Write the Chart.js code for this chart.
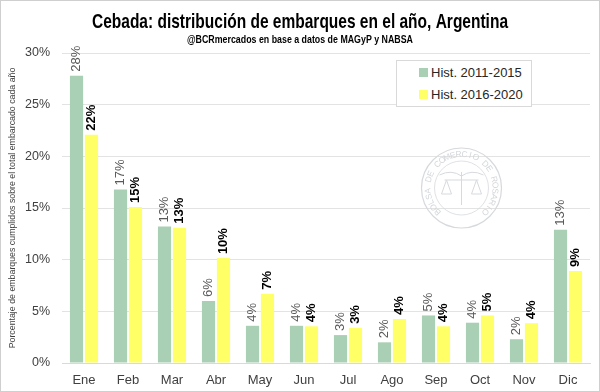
<!DOCTYPE html>
<html>
<head>
<meta charset="utf-8">
<script src="https://cdn.jsdelivr.net/npm/chart.js@4/dist/chart.umd.min.js"></script>
<style>
  body { margin: 0; background: #fff; }
  #wrap { position: relative; width: 600px; height: 392px; box-sizing: border-box; border: 1px solid #cfcfcf; }
  #legend { position: absolute; left: 395px; top: 59px; width: 136px; height: 47px; box-sizing: border-box;
    border: 1px solid #d9d9d9; background: #fff; font: 13px "Liberation Sans", sans-serif; color: #262626; }
  .item { position: absolute; left: 22px; height: 16px; line-height: 16px; white-space: nowrap; }
  .sw { display: inline-block; width: 9px; height: 9px; margin-right: 3px; }
</style>
</head>
<body>
<div id="wrap">
  <canvas id="embarques" width="598" height="390"></canvas>
  <div id="legend">
    <div class="item" style="top:4px"><span class="sw" style="background:#a9cfb4"></span>Hist. 2011-2015</div>
    <div class="item" style="top:26px"><span class="sw" style="background:#ffff66"></span>Hist. 2016-2020</div>
  </div>
</div>
<script>
const meses = ['Ene','Feb','Mar','Abr','May','Jun','Jul','Ago','Sep','Oct','Nov','Dic'];
const hist2011 = [27.8, 16.8, 13.2, 6.0, 3.6, 3.6, 2.7, 2.0, 4.6, 3.9, 2.3, 12.9];
const hist2016 = [22.1, 15.1, 13.1, 10.15, 6.7, 3.55, 3.4, 4.25, 3.55, 4.6, 3.85, 8.9];
const series = ['Hist. 2011-2015', 'Hist. 2016-2020'];
const titulo = 'Cebada: distribución de embarques en el año, Argentina';
const subtitulo = '@BCRmercados en base a datos de MAGyP y NABSA';
const sello = 'BOLSA DE COMERCIO DE ROSARIO';

// titulo angosto (fuente condensada), se comprime en x
function textoAngosto(ctx, txt, font, y, ancho) {
    ctx.save();
    ctx.font = font;
    ctx.fillStyle = '#000';
    ctx.textAlign = 'center';
    ctx.textBaseline = 'alphabetic';
    const w = ctx.measureText(txt).width;
    ctx.translate(299, y);
    ctx.scale(ancho / w, 1);
    ctx.fillText(txt, 0, 0);
    ctx.restore();
}

const encabezado = {
    id: 'encabezado',
    afterDraw(chart) {
        textoAngosto(chart.ctx, titulo, 'bold 21px "Liberation Sans", sans-serif', 26.5, 416);
        textoAngosto(chart.ctx, subtitulo, 'bold 11.5px "Liberation Sans", sans-serif', 42, 226);
    }
};

// marca de agua de la bolsa
const marca = {
    id: 'marca',
    beforeDatasetsDraw(chart) {
        const ctx = chart.ctx;
        const cx = 460.5, cy = 187, r = 40;
        ctx.save();
        ctx.strokeStyle = '#d6d9dd';
        ctx.fillStyle = '#d3d6da';
        ctx.lineWidth = 1.2;
        ctx.beginPath(); ctx.arc(cx, cy, r, 0, Math.PI * 2); ctx.stroke();
        ctx.lineWidth = 0.8;
        ctx.beginPath(); ctx.arc(cx, cy, r - 13, 0, Math.PI * 2); ctx.stroke();
        ctx.font = '8.5px "Liberation Sans", sans-serif';
        ctx.textAlign = 'center';
        ctx.textBaseline = 'middle';
        const ini = Math.PI * 0.75, paso = (Math.PI * 1.5) / (sello.length - 1);
        for (let i = 0; i < sello.length; i++) {
            const a = ini + i * paso;
            ctx.save();
            ctx.translate(cx + (r - 6.5) * Math.cos(a), cy + (r - 6.5) * Math.sin(a));
            ctx.rotate(a + Math.PI / 2);
            ctx.fillText(sello[i], 0, 0);
            ctx.restore();
        }
        // balanza
        ctx.lineWidth = 1;
        ctx.beginPath();
        ctx.moveTo(cx, cy - 16); ctx.lineTo(cx, cy + 17);
        ctx.moveTo(cx - 17, cy - 8); ctx.lineTo(cx + 17, cy - 8);
        ctx.moveTo(cx - 15, cy - 8); ctx.lineTo(cx - 20, cy + 6); ctx.lineTo(cx - 10, cy + 6); ctx.closePath();
        ctx.moveTo(cx + 15, cy - 8); ctx.lineTo(cx + 10, cy + 6); ctx.lineTo(cx + 20, cy + 6); ctx.closePath();
        ctx.moveTo(cx - 22, cy - 13); ctx.quadraticCurveTo(cx - 10, cy - 19, cx, cy - 12);
        ctx.quadraticCurveTo(cx + 10, cy - 19, cx + 22, cy - 13);
        ctx.stroke();
        ctx.restore();
    }
};

// etiquetas verticales sobre cada barra
const etiquetas = {
    id: 'etiquetas',
    afterDatasetsDraw(chart) {
        const ctx = chart.ctx;
        chart.data.datasets.forEach((ds, i) => {
            const meta = chart.getDatasetMeta(i);
            meta.data.forEach((bar, j) => {
                ctx.save();
                ctx.translate(bar.x, bar.y - 4);
                ctx.rotate(-Math.PI / 2);
                ctx.textAlign = 'left';
                ctx.textBaseline = 'middle';
                ctx.font = (i == 1 ? 'bold ' : '') + '13px "Liberation Sans", sans-serif';
                ctx.fillStyle = i == 1 ? '#000' : '#595959';
                ctx.fillText(Math.round(ds.data[j]) + '%', 0, 0);
                ctx.restore();
            });
        });
    }
};

const config = {
    type: 'bar',
    data: {
        labels: meses,
        datasets: [
            { label: series[0], data: hist2011, backgroundColor: '#a9cfb4', categoryPercentage: 0.68, barPercentage: 0.88 },
            { label: series[1], data: hist2016, backgroundColor: '#ffff66', categoryPercentage: 0.68, barPercentage: 0.88 }
        ]
    },
    options: {
        responsive: false,
        animation: false,
        layout: { padding: { left: 6, right: 9, top: 52, bottom: 0 } },
        plugins: {
            legend: { display: false },
            tooltip: { enabled: false }
        },
        scales: {
            x: {
                grid: { display: false, drawTicks: false },
                border: { color: '#d9d9d9' },
                ticks: { color: '#404040', font: { family: '"Liberation Sans", sans-serif', size: 13 }, padding: 10 },
                afterFit: s => { s.height = 28; }
            },
            y: {
                min: 0, max: 30,
                grid: { color: '#e3e3e3', drawTicks: false },
                border: { display: false },
                ticks: { stepSize: 5, color: '#404040', padding: 12,
                    font: { family: '"Liberation Sans", sans-serif', size: 12.5 },
                    callback: v => v + '%' },
                title: {
                    display: true,
                    text: 'Porcentaje de embarques cumplidos sobre el total embarcado cada año',
                    color: '#404040',
                    font: { family: '"Liberation Sans", sans-serif', size: 8.8 },
                    padding: { top: 0, bottom: 2 }
                },
                afterFit: s => { s.width = 55; }
            }
        }
    },
    plugins: [marca, etiquetas, encabezado]
};

new Chart(document.getElementById('embarques'), config);
</script>
</body>
</html>
